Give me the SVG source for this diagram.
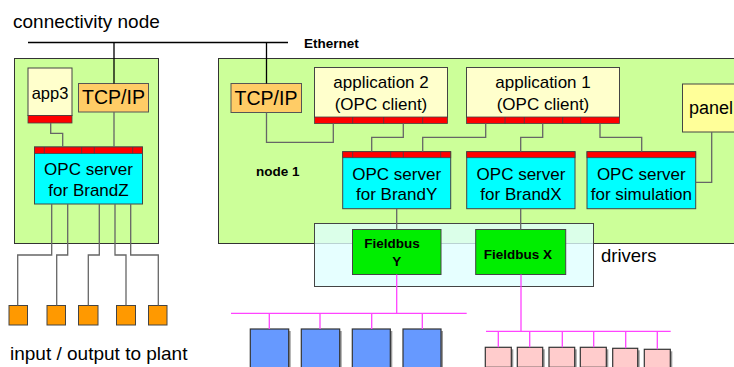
<svg xmlns="http://www.w3.org/2000/svg" width="734" height="367" viewBox="0 0 734 367">
<style>
text{font-family:"Liberation Sans",Arial,sans-serif;fill:#000}
.big{font-size:19px}
.lbl{font-size:17px;text-anchor:middle}
.tcp{font-size:19.5px;text-anchor:middle}
.bold{font-size:13.5px;font-weight:bold}
.node{fill:#CCFF99;stroke:#333;stroke-width:1}
.app{fill:#FFFFCC;stroke:#444;stroke-width:1}
.tcpbox{fill:#FFCC66;stroke:#555;stroke-width:1}
.red{fill:#FF0000;stroke:#444;stroke-width:0.8}
.opc{fill:#00FFFF;stroke:#444;stroke-width:1}
.fb{fill:#00EE00;stroke:#444;stroke-width:1}
.io{fill:#FF9900;stroke:#444;stroke-width:1}
.blue{fill:#6699FF;stroke:#333;stroke-width:1.2}
.pink{fill:#FFCCCC;stroke:#333;stroke-width:1.2}
.shadow{fill:#999}
.wire{fill:none;stroke:#666;stroke-width:1.3}
.eth{fill:none;stroke:#000;stroke-width:1.3}
.bus{fill:none;stroke:#FF44FF;stroke-width:1.3}
</style>

<g id="title"><text class="big" x="13" y="28">connectivity node</text></g>

<g id="node-connectivity"><rect class="node" x="14.5" y="58.5" width="144" height="185"/></g>
<g id="node-1"><rect class="node" x="218.5" y="58.5" width="530" height="185"/>
<text class="bold" x="256" y="176">node 1</text></g>

<g id="app3">
<rect class="app" x="28" y="68" width="44" height="47.5"/>
<rect class="red" x="28" y="115.5" width="44" height="7.5"/>
<text class="lbl" x="50" y="99" style="font-size:16.5px">app3</text>
</g>

<g id="tcpip-left">
<rect class="tcpbox" x="78.5" y="83.5" width="70" height="28.5"/>
<text class="tcp" x="113.5" y="104">TCP/IP</text>
</g>

<g id="opc-brandz">
<rect class="opc" x="34.5" y="147" width="108" height="57"/>
<rect class="red" x="34.5" y="147" width="108" height="6.5"/>
<path d="M44.3 147v6.5M81.7 147v6.5M94.3 147v6.5M132.7 147v6.5" stroke="#444" stroke-width="0.8"/>
<text class="lbl" x="88.5" y="175">OPC server</text>
<text class="lbl" x="88.5" y="196">for BrandZ</text>
</g>

<g id="io-boxes">
<rect class="io" x="9" y="305.5" width="18.5" height="19.5"/>
<rect class="io" x="47" y="305.5" width="18.5" height="19.5"/>
<rect class="io" x="78.5" y="305.5" width="19.5" height="19.5"/>
<rect class="io" x="116.5" y="305.5" width="19" height="19.5"/>
<rect class="io" x="148.5" y="305.5" width="18.5" height="19.5"/>
</g>
<g id="io-label"><text class="big" x="10" y="360">input / output to plant</text></g>

<g id="tcpip-right">
<rect class="tcpbox" x="231" y="83.5" width="70.5" height="29"/>
<text class="tcp" x="266" y="104.5">TCP/IP</text>
</g>

<g id="application-2">
<rect class="app" x="314.5" y="67.5" width="133" height="50"/>
<rect class="red" x="314.5" y="117" width="133" height="6.5"/>
<path d="M352.7 117v6.5M383.7 117v6.5M422.7 117v6.5" stroke="#444" stroke-width="0.8"/>
<text class="lbl" x="381" y="88">application 2</text>
<text class="lbl" x="381" y="109.5">(OPC client)</text>
</g>

<g id="application-1">
<rect class="app" x="466.5" y="67.5" width="153" height="50"/>
<rect class="red" x="466.5" y="117" width="153" height="6.5"/>
<path d="M505 117v6.5M524.3 117v6.5M562.7 117v6.5M580.7 117v6.5" stroke="#444" stroke-width="0.8"/>
<text class="lbl" x="543" y="88">application 1</text>
<text class="lbl" x="543" y="109.5">(OPC client)</text>
</g>

<g id="panel">
<rect x="682.5" y="84" width="60" height="48" fill="#FFFF99" stroke="#444" stroke-width="1"/>
<text x="689" y="113.5" style="font-size:18px">panel</text>
</g>

<g id="opc-brandy">
<rect class="opc" x="342.7" y="151.7" width="108" height="57"/>
<rect class="red" x="342.7" y="151.7" width="108" height="6"/>
<path d="M352.7 151.7v6M390.7 151.7v6M403.3 151.7v6M440.7 151.7v6" stroke="#444" stroke-width="0.8"/>
<text class="lbl" x="396.7" y="180">OPC server</text>
<text class="lbl" x="396.7" y="200">for BrandY</text>
</g>

<g id="opc-brandx">
<rect class="opc" x="466.7" y="151.7" width="108.3" height="57"/>
<rect class="red" x="466.7" y="151.7" width="108.3" height="6"/>
<text class="lbl" x="521" y="180">OPC server</text>
<text class="lbl" x="521" y="200">for BrandX</text>
</g>

<g id="opc-simulation">
<rect class="opc" x="587" y="151.7" width="108.7" height="57"/>
<rect class="red" x="587" y="151.7" width="108.7" height="6"/>
<text class="lbl" x="641.3" y="180">OPC server</text>
<text class="lbl" x="641.3" y="200">for simulation</text>
</g>

<g id="drivers">
<rect x="314.5" y="223.5" width="279" height="63" fill="#DFFFFF" fill-opacity="0.78" stroke="#444" stroke-width="1"/>
<text x="601" y="262" style="font-size:18.5px">drivers</text>
</g>

<g id="fieldbus-y">
<rect class="fb" x="352.5" y="229.5" width="88.5" height="45"/>
<text class="bold" x="392" y="247.5" text-anchor="middle">Fieldbus</text>
<text class="bold" x="396.7" y="265.5" text-anchor="middle">Y</text>
</g>

<g id="fieldbus-x">
<rect class="fb" x="475.7" y="229.5" width="90" height="45"/>
<text class="bold" x="518" y="259" text-anchor="middle">Fieldbus X</text>
</g>

<g id="devices-y">
<rect class="shadow" x="252.3" y="331" width="38.4" height="40"/>
<rect class="blue" x="250.3" y="329" width="38.4" height="40"/>
<rect class="shadow" x="303.3" y="331" width="38.4" height="40"/>
<rect class="blue" x="301.3" y="329" width="38.4" height="40"/>
<rect class="shadow" x="354.3" y="331" width="38" height="40"/>
<rect class="blue" x="352.3" y="329" width="38" height="40"/>
<rect class="shadow" x="405" y="331" width="38" height="40"/>
<rect class="blue" x="403" y="329" width="38" height="40"/>
</g>

<g id="devices-x">
<rect class="shadow" x="487.3" y="349.3" width="26" height="20"/>
<rect class="pink" x="485.3" y="347.3" width="26" height="20"/>
<rect class="shadow" x="519.3" y="349.3" width="25.4" height="20"/>
<rect class="pink" x="517.3" y="347.3" width="25.4" height="20"/>
<rect class="shadow" x="551" y="349.3" width="25.7" height="20"/>
<rect class="pink" x="549" y="347.3" width="25.7" height="20"/>
<rect class="shadow" x="582.3" y="349.3" width="26" height="20"/>
<rect class="pink" x="580.3" y="347.3" width="26" height="20"/>
<rect class="shadow" x="614.7" y="350.3" width="25" height="20"/>
<rect class="pink" x="612.7" y="348.3" width="25" height="20"/>
<rect class="shadow" x="646.3" y="351.3" width="26" height="20"/>
<rect class="pink" x="644.3" y="349.3" width="26" height="20"/>
</g>

<g id="connectors">
<path class="eth" d="M28 42.5H288M114 42.5V83.5M266.5 42.5V83.5"/>
<text x="304" y="47.5" style="font-size:13.5px;font-weight:bold">Ethernet</text>
<path class="wire" d="M114 112V147M50.7 123V133.3H62.7V147"/>
<path class="wire" d="M51.7 204V255H17.7V305.5M67.7 204V255H56.7V305.5M99.3 204V255H88.3V305.5M115 204V255H126V305.5M130.7 204V255H158.3V305.5"/>
<path class="wire" d="M266.5 112.5V142.3H333.3V123.5"/>
<path class="wire" d="M403.3 123.5V137.3H371.7V151.7M485.7 123.5V137.3H422.7V151.7M542.7 123.5V137.3H520.7V151.7M600 123.5V137.3H641.7V151.7"/>
<path class="wire" d="M711.7 132V182.3H695.7"/>
<path class="wire" d="M396.7 208.7V229.5M520.7 208.7V229.5"/>
<path class="bus" d="M396.7 274.5V313.3M231 313.3H466.7M269.3 313.3V329M320 313.3V329M371.7 313.3V329M422.3 313.3V329"/>
<path class="bus" d="M521 274.5V331.3M486 331.3H670.7M498.3 331.3V347.3M529.7 331.3V347.3M562.3 331.3V347.3M593.7 331.3V347.3M625.7 331.3V348.3M657.3 331.3V349.3"/>
</g>
</svg>
